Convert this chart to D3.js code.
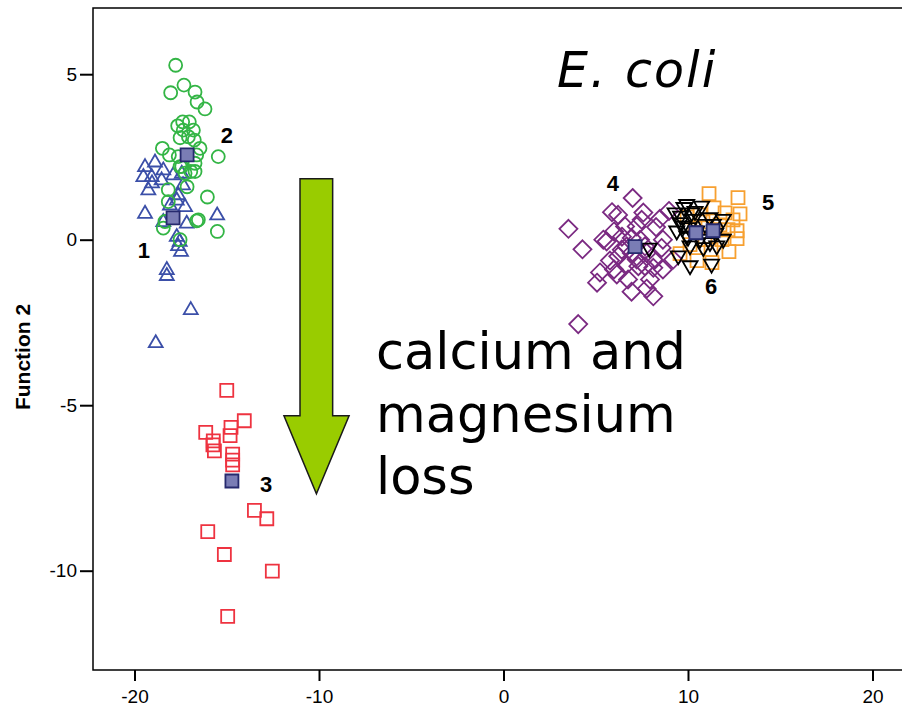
<!DOCTYPE html>
<html>
<head>
<meta charset="utf-8">
<script src="https://cdn.jsdelivr.net/npm/d3@7"></script>
<style>
  body { margin: 0; background: #fff; }
  svg { display: block; }
</style>
</head>
<body>
<div id="chart"></div>
<script>
{
  // group 1 (blue triangles)
  const group1 = [
    [-19.43, 2.21], [-18.89, 2.35], [-18.44, 2.11], [-19.07, 1.91], [-17.90, 1.96],
    [-17.44, 2.01], [-19.52, 1.91], [-18.53, 1.81], [-19.25, 1.51], [-17.63, 1.36],
    [-17.71, 1.20], [-17.26, 1.00], [-19.43, 0.80], [-17.17, 0.50], [-15.52, 0.75],
    [-17.71, 0.10], [-18.44, 0.55], [-17.48, -0.35], [-18.25, -0.90], [-18.25, -1.08],
    [-16.95, -2.11], [-18.85, -3.11], [-17.55, -0.05], [-18.08, 1.05], [-17.37, 1.66],
    [-19.05, 1.72], [-17.64, -0.18]
  ];
  // group 2 (green circles)
  const group2 = [
    [-17.77, 5.27], [-17.32, 4.67], [-18.04, 4.44], [-16.72, 4.46], [-16.61, 4.16],
    [-16.18, 3.95], [-17.39, 3.56], [-17.03, 3.56], [-17.66, 3.44], [-16.81, 3.31],
    [-17.36, 3.31], [-17.53, 3.08], [-17.08, 3.11], [-16.76, 3.01], [-18.49, 2.76],
    [-18.11, 2.56], [-16.45, 2.76], [-16.63, 2.56], [-15.46, 2.51], [-17.63, 2.51],
    [-17.44, 2.21], [-16.72, 2.31], [-16.95, 2.06], [-17.26, 2.01], [-17.53, 2.21],
    [-16.72, 2.06], [-18.17, 1.51], [-18.17, 1.15], [-16.05, 1.29], [-16.54, 0.60],
    [-18.35, 0.55], [-15.51, 0.25], [-17.53, 0.00], [-18.44, 0.35], [-16.63, 0.57],
    [-17.15, 1.60]
  ];
  // group 3 (red squares)
  const group3 = [
    [-15.00, -4.55], [-14.05, -5.47], [-16.14, -5.82], [-14.77, -5.67], [-14.82, -5.92],
    [-15.73, -6.08], [-15.67, -6.38], [-14.68, -6.48], [-14.68, -6.66], [-14.68, -6.80],
    [-13.50, -8.18], [-12.83, -8.43], [-16.03, -8.82], [-15.13, -9.51], [-12.53, -10.01],
    [-14.95, -11.38], [-15.75, -6.20]
  ];
  // group 4 (purple diamonds)
  const group4 = [
    [7.00, 1.26], [5.88, 0.83], [6.21, 0.75], [7.58, 0.82], [8.97, 0.87],
    [3.52, 0.33], [4.28, -0.29], [5.59, -0.05], [5.99, 0.25], [6.59, 0.40],
    [6.95, 0.05], [7.49, 0.60], [7.22, 0.40], [8.27, 0.38], [8.64, 0.00],
    [8.57, -0.25], [5.77, -0.63], [6.22, -0.50], [7.22, -0.60], [7.67, -0.80],
    [6.68, -0.75], [7.31, -0.80], [8.12, -0.60], [8.12, -0.85], [8.64, -0.90],
    [9.20, -0.60], [5.07, -1.30], [6.14, -1.05], [6.94, -1.57], [7.76, -1.48],
    [8.12, -1.71], [4.05, -2.55], [6.95, -0.40], [7.67, -0.20], [6.41, -0.30],
    [5.23, -0.99], [5.41, 0.00], [6.68, -0.20], [7.76, -0.40], [7.40, 0.00],
    [6.75, -1.20], [5.99, -0.90], [7.94, -1.20], [8.48, 0.63], [6.42, 0.09]
  ];
  // group 5 (orange squares)
  const group5 = [
    [11.14, 1.39], [12.71, 1.27], [12.82, 0.78], [11.41, 0.96], [12.01, 0.81],
    [12.44, 0.60], [12.66, 0.27], [12.66, 0.03], [12.22, -0.36], [11.25, -0.30],
    [9.57, -0.42], [10.49, -0.63], [11.30, -0.69], [9.95, 0.69], [11.73, 0.45],
    [10.65, 0.75], [10.92, 0.00], [11.84, 0.00], [11.46, 0.30], [10.38, 0.36],
    [12.17, 0.30], [10.11, -0.15], [10.81, 0.54]
  ];
  // group 6 (black down triangles)
  const group6 = [
    [9.93, 1.05], [10.74, 1.00], [9.30, 0.80], [10.20, 0.80], [9.57, 0.50],
    [10.29, 0.60], [11.19, 0.65], [11.91, 0.60], [11.37, 0.45], [9.39, 0.25],
    [9.93, 0.10], [10.65, 0.00], [11.19, -0.10], [11.91, 0.00], [10.11, -0.20],
    [10.83, -0.25], [11.56, -0.20], [9.47, -0.50], [10.11, -0.80], [11.28, -0.75],
    [9.75, 0.40], [10.47, 0.25], [7.90, -0.27], [9.78, 0.96], [10.38, 0.84],
    [10.92, 0.45], [10.00, 0.06], [11.50, 0.18], [9.60, 0.70], [10.05, 0.35]
  ];
  const centroids = [
    [-17.91, 0.66], [-17.15, 2.56], [-14.72, -7.29], [7.13, -0.21], [11.36, 0.27], [10.43, 0.21]
  ];
  const groupLabels = ["1", "2", "3", "4", "5", "6"];
  const groupLabelPos = [
    [-19.49, -0.30], [-14.99, 3.16], [-12.87, -7.38], [5.93, 1.72], [14.34, 1.14], [11.25, -1.39]
  ];

  const xTicks = [-20, -10, 0, 10, 20];
  const yTicks = [5, 0, -5, -10];
  const xDomain = [-22.25, 22.25];
  const yDomain = [-13, 7];

  const width = 902;
  const height = 707;
  const margin = { top: 8, right: -12, bottom: 37, left: 93 };

  const svg = d3.select("#chart")
    .append("svg")
    .attr("width", width)
    .attr("height", height);

  const x = d3.scaleLinear().domain(xDomain).range([margin.left, width - margin.right]);
  const y = d3.scaleLinear().domain(yDomain).range([height - margin.bottom, margin.top]);

  // frame
  svg.append("rect")
    .attr("x", x(xDomain[0]))
    .attr("y", y(yDomain[1]))
    .attr("width", x(xDomain[1]) - x(xDomain[0]))
    .attr("height", y(yDomain[0]) - y(yDomain[1]))
    .attr("fill", "none")
    .attr("stroke", "#000")
    .attr("stroke-width", 1.5);

  const xAxis = svg.append("g")
    .attr("transform", `translate(0,${y(yDomain[0])})`)
    .call(d3.axisBottom(x).tickValues(xTicks).tickSize(11).tickPadding(9).tickFormat(d => String(d)));
  xAxis.select(".domain").remove();
  xAxis.selectAll("line").attr("stroke-width", 2);
  xAxis.selectAll("text")
    .attr("font-family", "Liberation Sans, Arial, sans-serif")
    .attr("font-size", 19)
    .attr("fill", "#000");

  const yAxis = svg.append("g")
    .attr("transform", `translate(${x(xDomain[0])},0)`)
    .call(d3.axisLeft(y).tickValues(yTicks).tickSize(13).tickPadding(3).tickFormat(d => String(d)));
  yAxis.select(".domain").remove();
  yAxis.selectAll("line").attr("stroke-width", 2);
  yAxis.selectAll("text")
    .attr("font-family", "Liberation Sans, Arial, sans-serif")
    .attr("font-size", 19)
    .attr("fill", "#000");

  svg.append("text")
    .attr("transform", `translate(30,${(y(yDomain[0]) + y(yDomain[1])) / 2 + 18}) rotate(-90)`)
    .attr("text-anchor", "middle")
    .attr("font-family", "Liberation Sans, Arial, sans-serif")
    .attr("font-weight", "bold")
    .attr("font-size", 21)
    .text("Function 2");

  // marker shapes
  const shapes = {
    triUp: s => `M0,${-s * 0.62}L${s * 0.58},${s * 0.38}L${-s * 0.58},${s * 0.38}Z`,
    triDown: s => `M0,${s * 0.62}L${s * 0.58},${-s * 0.38}L${-s * 0.58},${-s * 0.38}Z`,
    circle: s => `M${s / 2},0A${s / 2},${s / 2} 0 1 1 ${-s / 2},0A${s / 2},${s / 2} 0 1 1 ${s / 2},0Z`,
    square: s => `M${-s / 2},${-s / 2}h${s}v${s}h${-s}Z`,
    diamond: s => `M0,${-s / 2}L${s / 2},0L0,${s / 2}L${-s / 2},0Z`
  };

  const groups = [
    { data: group1, shape: "triUp", size: 12, color: "#3b4fa8" },
    { data: group2, shape: "circle", size: 13, color: "#33b545" },
    { data: group3, shape: "square", size: 13, color: "#ee3340" },
    { data: group4, shape: "diamond", size: 18, color: "#7b2a82" },
    { data: group5, shape: "square", size: 13, color: "#f7a030" },
    { data: group6, shape: "triDown", size: 13, color: "#000000" }
  ];

  const gPoints = svg.append("g").attr("class", "points");
  groups.forEach((g, i) => {
    gPoints.append("g")
      .attr("class", "group-" + (i + 1))
      .selectAll("path")
      .data(g.data)
      .enter()
      .append("path")
      .attr("transform", d => `translate(${x(d[0])},${y(d[1])})`)
      .attr("d", shapes[g.shape](g.size))
      .attr("fill", "none")
      .attr("stroke", g.color)
      .attr("stroke-width", 1.8);
  });

  svg.append("g")
    .attr("class", "centroids")
    .selectAll("path")
    .data(centroids)
    .enter()
    .append("path")
    .attr("transform", d => `translate(${x(d[0])},${y(d[1])})`)
    .attr("d", shapes.square(13))
    .attr("fill", "#7a7db5")
    .attr("stroke", "#262a6e")
    .attr("stroke-width", 1.8);

  svg.append("g")
    .attr("class", "group-labels")
    .selectAll("text")
    .data(groupLabels)
    .enter()
    .append("text")
    .attr("x", (d, i) => x(groupLabelPos[i][0]))
    .attr("y", (d, i) => y(groupLabelPos[i][1]))
    .attr("dy", "0.36em")
    .attr("text-anchor", "middle")
    .attr("font-family", "Liberation Sans, Arial, sans-serif")
    .attr("font-weight", "bold")
    .attr("font-size", 22)
    .text(d => d);

  // annotation arrow
  const arrow = [
    [-11.03, 1.84], [-9.26, 1.84], [-9.26, -5.32], [-8.37, -5.32],
    [-10.14, -7.68], [-11.90, -5.32], [-11.03, -5.32]
  ];
  svg.append("path")
    .attr("d", d3.line().x(d => x(d[0])).y(d => y(d[1]))(arrow) + "Z")
    .attr("fill", "#99cc00")
    .attr("stroke", "#1a1a1a")
    .attr("stroke-width", 1.5);

  const noteLines = ["calcium and", "magnesium", "loss"];
  const noteBaselines = [-3.91, -5.81, -7.68];
  svg.append("g")
    .selectAll("text")
    .data(noteLines)
    .enter()
    .append("text")
    .attr("x", x(-6.91))
    .attr("y", (d, i) => y(noteBaselines[i]))
    .attr("font-family", "DejaVu Sans, Verdana, sans-serif")
    .attr("font-size", 51)
    .attr("fill", "#000")
    .text(d => d);

  svg.append("text")
    .attr("x", x(2.90))
    .attr("y", y(4.62))
    .attr("font-family", "DejaVu Sans, Verdana, sans-serif")
    .attr("font-style", "italic")
    .attr("font-size", 49)
    .attr("letter-spacing", 2)
    .attr("fill", "#000")
    .text("E. coli");
}
</script>
</body>
</html>
